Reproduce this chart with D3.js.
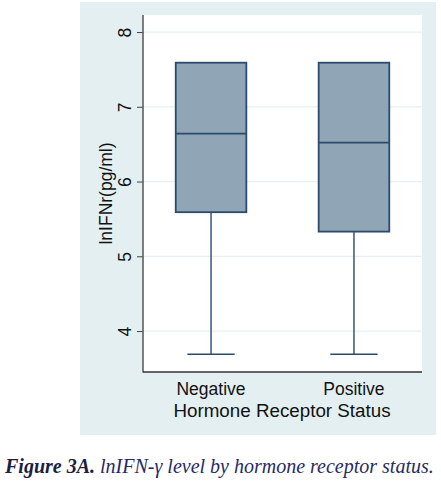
<!DOCTYPE html>
<html><head><meta charset="utf-8">
<script src="https://cdn.jsdelivr.net/npm/d3@7"></script>
<style>body{margin:0;background:#fff}svg{display:block}</style>
</head><body>
<script>
const categories = ["Negative", "Positive"];
const lowerWhisker = [3.69, 3.69];
const q1 = [5.59, 5.33];
const median = [6.64, 6.52];
const q3 = [7.59, 7.59];
const upperWhisker = [7.59, 7.59];
const yTicks = [4, 5, 6, 7, 8];

const W = 441, H = 495;
const svg = d3.select("body").append("svg").attr("width", W).attr("height", H);
const font = "'Liberation Sans', Arial, sans-serif";

svg.append("rect").attr("x", 80).attr("y", 2).attr("width", 356).attr("height", 433).attr("fill", "#e4eff2");
const L = 143, R = 422, T = 15, B = 372;
svg.append("rect").attr("x", L).attr("y", T).attr("width", R - L).attr("height", B - T).attr("fill", "#fff");

const y = d3.scaleLinear().domain([3.452, 8.228]).range([B, T]);
const x = d3.scaleBand().domain(categories).range([L, R]).paddingInner(0.506).paddingOuter(0.229);

svg.append("g").selectAll("line").data(yTicks).join("line")
  .attr("x1", L).attr("x2", R).attr("y1", d => y(d)).attr("y2", d => y(d))
  .attr("stroke", "#e6f0f2").attr("stroke-width", 1.2);

const ya = svg.append("g").attr("transform", `translate(${L},0)`)
  .call(d3.axisLeft(y).tickValues(yTicks).tickSize(6).tickPadding(4).tickFormat(d3.format("d")));
ya.select(".domain").remove();
ya.selectAll(".tick line").attr("stroke", "#444");
ya.selectAll(".tick text").attr("font-family", font).attr("font-size", 17.5).attr("fill", "#111")
  .attr("x", null).attr("dy", null)
  .attr("text-anchor", "middle")
  .attr("transform", `translate(-12,0) rotate(-90)`);

svg.append("line").attr("x1", L).attr("x2", L).attr("y1", T).attr("y2", B + 0.5).attr("stroke", "#555").attr("stroke-width", 1.5);
svg.append("line").attr("x1", L).attr("x2", R).attr("y1", B).attr("y2", B).attr("stroke", "#333").attr("stroke-width", 1.5);

svg.append("text").attr("transform", `translate(112,${(T + B) / 2}) rotate(-90)`)
  .attr("text-anchor", "middle").attr("font-family", font).attr("font-size", 17.5).attr("fill", "#111")
  .text("lnIFNr(pg/ml)");

const stroke = "#2b4b6e";
const g = svg.append("g");
categories.forEach((c, i) => {
  const cx = x(c) + x.bandwidth() / 2;
  const bw = x.bandwidth();
  const capW = bw * 0.67;
  g.append("line").attr("x1", cx).attr("x2", cx).attr("y1", y(lowerWhisker[i])).attr("y2", y(q1[i]))
    .attr("stroke", stroke).attr("stroke-width", 1.4);
  g.append("line").attr("x1", cx).attr("x2", cx).attr("y1", y(upperWhisker[i])).attr("y2", y(q3[i]))
    .attr("stroke", stroke).attr("stroke-width", 1.4);
  g.append("line").attr("x1", cx - capW / 2).attr("x2", cx + capW / 2).attr("y1", y(lowerWhisker[i])).attr("y2", y(lowerWhisker[i]))
    .attr("stroke", stroke).attr("stroke-width", 1.6);
  g.append("rect").attr("x", x(c)).attr("width", bw).attr("y", y(q3[i])).attr("height", y(q1[i]) - y(q3[i]))
    .attr("fill", "#90a5b5").attr("stroke", stroke).attr("stroke-width", 1.8);
  g.append("line").attr("x1", x(c)).attr("x2", x(c) + bw).attr("y1", y(median[i])).attr("y2", y(median[i]))
    .attr("stroke", stroke).attr("stroke-width", 1.8);
  svg.append("text").attr("x", cx).attr("y", 395).attr("text-anchor", "middle")
    .attr("font-family", font).attr("font-size", 17.5).attr("fill", "#111").text(c);
});

svg.append("text").attr("x", 282).attr("y", 417).attr("text-anchor", "middle")
  .attr("font-family", font).attr("font-size", 18.8).attr("fill", "#111").text("Hormone Receptor Status");

const cap = svg.append("text").attr("x", 5).attr("y", 473).attr("font-family", "'Liberation Serif', 'Times New Roman', serif")
  .attr("font-size", 20).attr("font-style", "italic");
cap.append("tspan").attr("font-weight", "bold").attr("fill", "#1b1e40").text("Figure 3A.");
cap.append("tspan").attr("fill", "#262a66").text(" lnIFN-γ level by hormone receptor status.");
</script>
</body></html>
